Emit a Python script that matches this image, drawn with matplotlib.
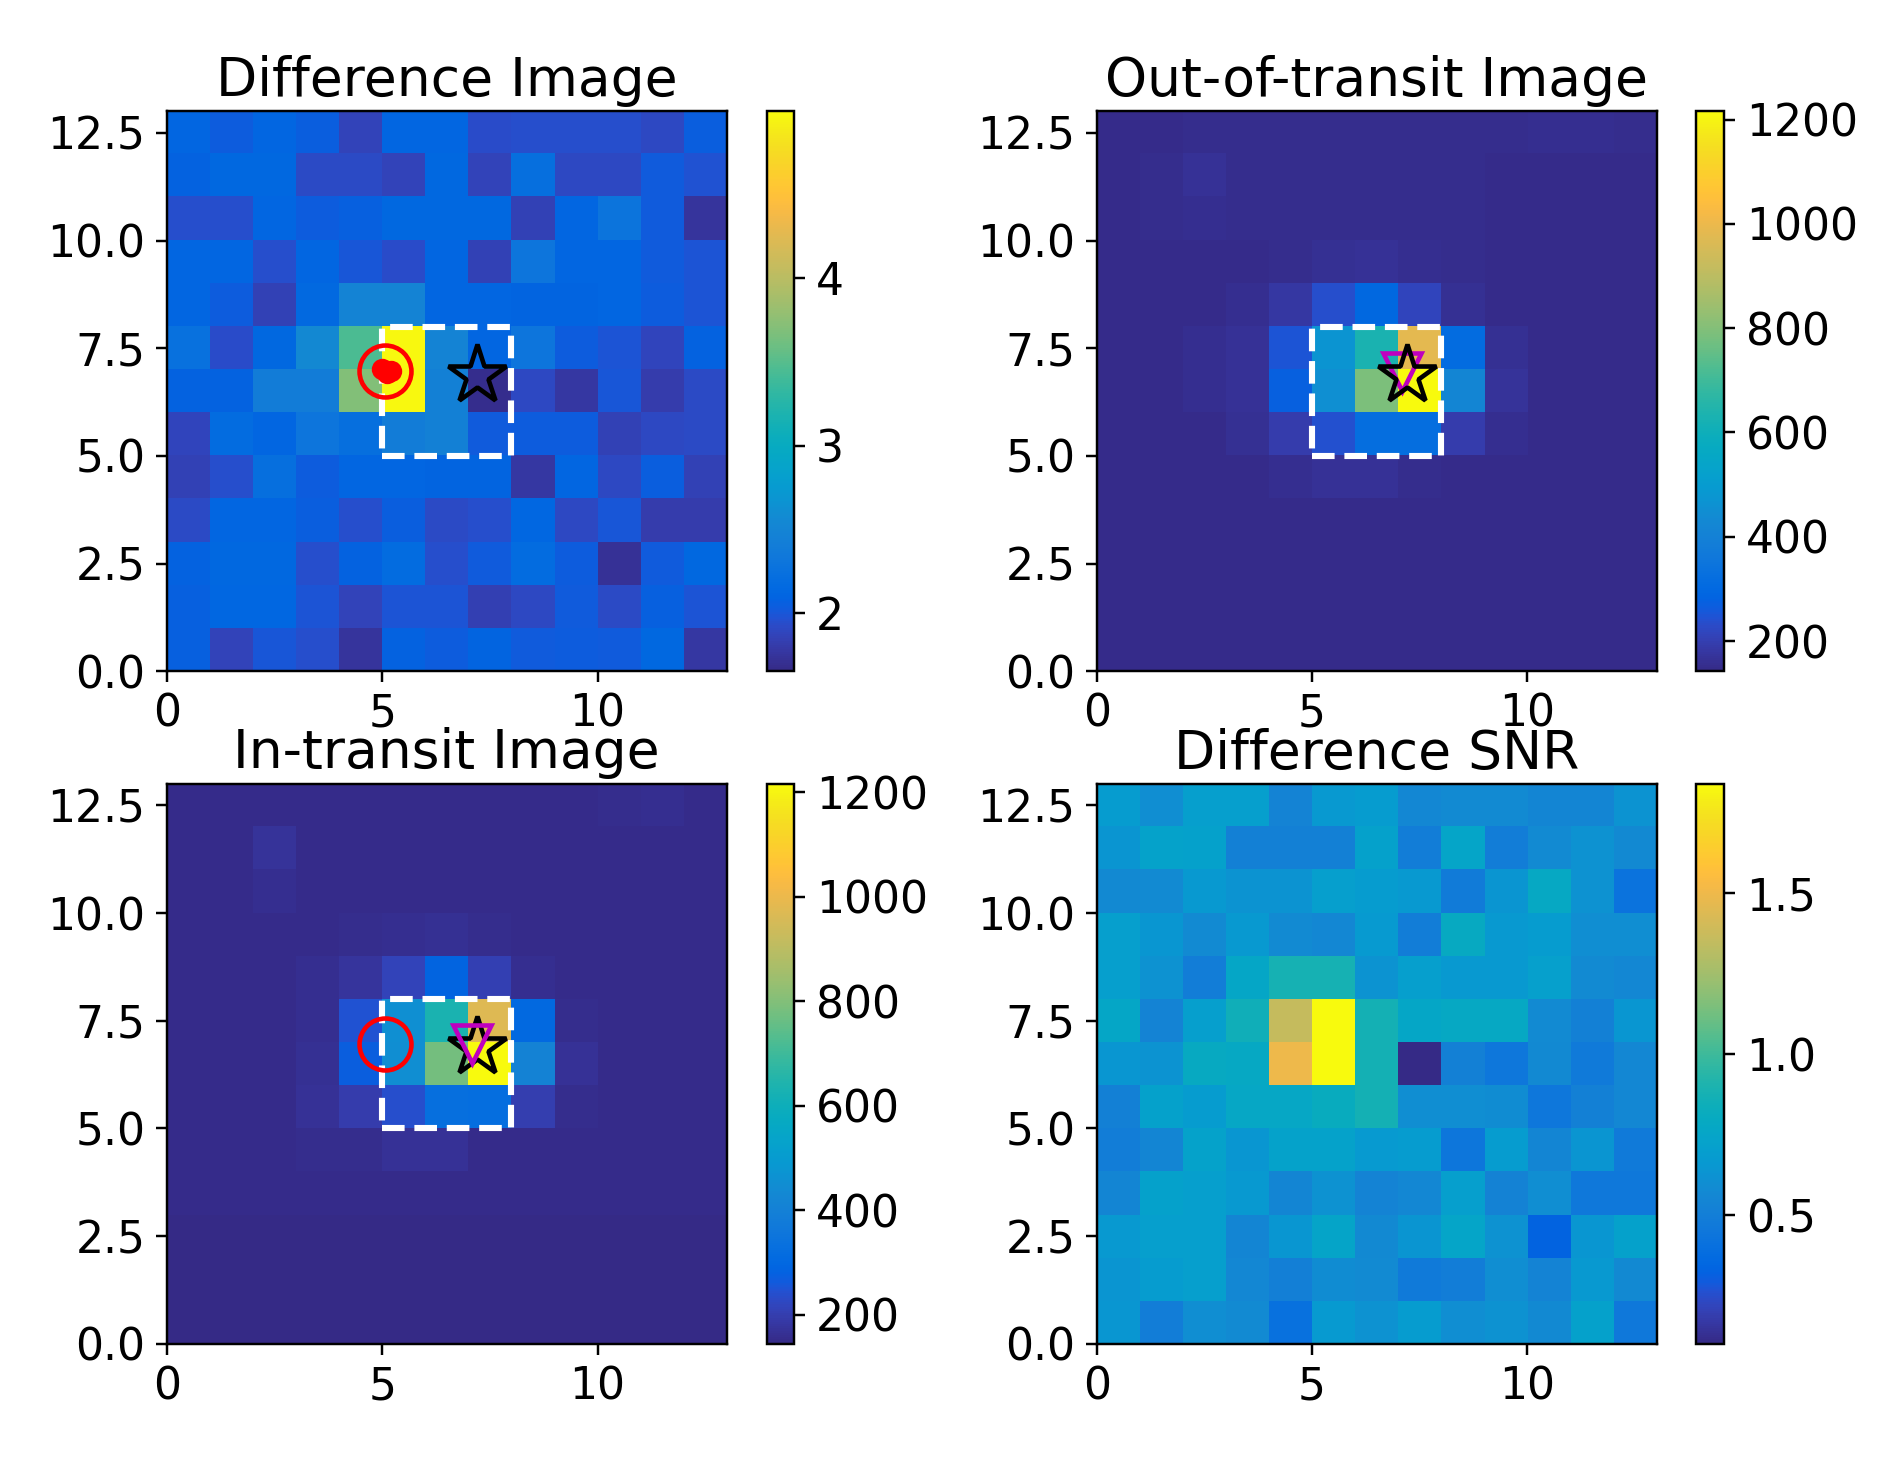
import numpy as np
import matplotlib
matplotlib.use('Agg')
import matplotlib.pyplot as plt
from matplotlib.colors import LinearSegmentedColormap

# parula colour table, stretched to 256 levels below
parula_table = [
    (0.2081,0.1663,0.5292),(0.2116,0.1898,0.5777),(0.2123,0.2138,0.6270),(0.2081,0.2386,0.6771),
    (0.1959,0.2645,0.7279),(0.1707,0.2919,0.7792),(0.1253,0.3242,0.8303),(0.0591,0.3598,0.8683),
    (0.0117,0.3875,0.8820),(0.0060,0.4086,0.8828),(0.0165,0.4266,0.8786),(0.0329,0.4430,0.8720),
    (0.0498,0.4586,0.8641),(0.0629,0.4737,0.8554),(0.0723,0.4887,0.8467),(0.0779,0.5040,0.8384),
    (0.0793,0.5200,0.8312),(0.0749,0.5375,0.8263),(0.0641,0.5570,0.8240),(0.0488,0.5772,0.8228),
    (0.0343,0.5966,0.8199),(0.0265,0.6137,0.8135),(0.0239,0.6287,0.8038),(0.0231,0.6418,0.7913),
    (0.0228,0.6535,0.7768),(0.0267,0.6642,0.7607),(0.0384,0.6743,0.7436),(0.0590,0.6838,0.7254),
    (0.0843,0.6928,0.7062),(0.1133,0.7015,0.6859),(0.1453,0.7098,0.6646),(0.1801,0.7177,0.6424),
    (0.2178,0.7250,0.6193),(0.2586,0.7317,0.5954),(0.3022,0.7376,0.5712),(0.3482,0.7424,0.5473),
    (0.3953,0.7459,0.5244),(0.4420,0.7481,0.5033),(0.4871,0.7491,0.4840),(0.5300,0.7491,0.4661),
    (0.5709,0.7485,0.4494),(0.6099,0.7473,0.4337),(0.6473,0.7456,0.4188),(0.6834,0.7435,0.4044),
    (0.7184,0.7411,0.3905),(0.7525,0.7384,0.3768),(0.7858,0.7356,0.3633),(0.8185,0.7327,0.3498),
    (0.8507,0.7299,0.3360),(0.8824,0.7274,0.3217),(0.9139,0.7258,0.3063),(0.9450,0.7261,0.2886),
    (0.9739,0.7314,0.2666),(0.9938,0.7455,0.2403),(0.9990,0.7653,0.2164),(0.9955,0.7861,0.1967),
    (0.9880,0.8066,0.1794),(0.9789,0.8271,0.1633),(0.9697,0.8481,0.1475),(0.9626,0.8705,0.1309),
    (0.9589,0.8949,0.1132),(0.9598,0.9218,0.0948),(0.9661,0.9514,0.0755),(0.9763,0.9831,0.0538)]
parula = LinearSegmentedColormap.from_list('parula', parula_table, N=256)

# rows listed top (y=12..13) to bottom (y=0..1)
diff_img = [
    [2.12,2.03,2.12,2.05,1.87,2.12,2.12,1.93,1.95,1.95,1.95,1.90,2.05],
    [2.08,2.14,2.14,1.92,1.92,1.87,2.14,1.87,2.22,1.90,1.90,2.02,1.97],
    [1.95,1.95,2.12,2.03,2.06,2.14,2.14,2.14,1.85,2.12,2.28,2.02,1.75],
    [2.12,2.12,1.95,2.12,2.00,1.93,2.12,1.85,2.30,2.12,2.12,2.02,1.98],
    [2.12,2.04,1.85,2.16,2.50,2.50,2.12,2.12,2.10,2.10,2.12,2.03,1.98],
    [2.25,1.93,2.14,2.55,3.45,4.98,2.50,2.12,2.30,2.03,1.98,1.88,2.08],
    [2.08,2.08,2.40,2.40,3.70,4.98,2.45,1.68,1.90,1.78,2.00,1.82,1.92],
    [1.88,2.18,2.12,2.30,2.22,2.40,2.45,2.02,2.04,2.04,1.85,1.90,1.92],
    [1.85,1.95,2.22,2.03,2.12,2.12,2.10,2.10,1.78,2.12,1.90,2.05,1.85],
    [1.92,2.12,2.12,2.05,1.95,2.05,1.92,1.95,2.13,1.90,2.00,1.82,1.82],
    [2.08,2.14,2.14,1.95,2.08,2.18,1.95,2.02,2.18,2.03,1.72,2.02,2.14],
    [2.06,2.13,2.13,1.98,1.87,1.98,1.98,1.84,1.90,2.02,1.92,2.06,1.98],
    [2.06,1.87,2.00,1.95,1.75,2.08,2.03,2.10,2.02,2.03,2.02,2.14,1.78]]

out_img = [
    [150,150,151,151,151,151,151,151,151,151,155,157,152],
    [150,152,166,151,151,151,151,151,151,150,150,150,150],
    [150,152,158,151,151,151,151,151,151,150,149,149,149],
    [150,150,150,150,152,160,165,155,151,149,149,149,149],
    [150,150,150,155,180,235,300,215,160,150,149,149,149],
    [150,150,155,165,250,470,630,985,310,160,149,149,149],
    [150,150,155,165,275,455,790,1216,420,170,149,149,149],
    [150,150,150,160,195,240,320,320,195,155,149,149,149],
    [150,150,150,150,155,165,165,152,150,149,149,149,149],
    [149,149,149,149,149,149,149,149,149,149,149,149,149],
    [148,148,148,148,148,148,148,148,148,148,148,148,148],
    [148,148,148,148,148,148,148,148,148,148,148,148,148],
    [148,148,148,148,148,148,148,148,148,148,148,148,148]]

in_img = [
    [150,150,151,151,151,151,151,151,151,151,155,160,152],
    [150,152,170,151,151,151,151,151,151,150,150,150,150],
    [150,152,157,151,151,151,151,151,151,150,149,149,149],
    [150,150,150,150,153,158,162,155,151,149,149,149,149],
    [150,150,150,160,175,215,290,205,160,150,149,149,149],
    [150,150,152,160,245,455,630,970,305,155,149,149,149],
    [150,150,152,162,270,450,780,1216,410,168,149,149,149],
    [150,150,150,165,195,240,325,320,200,155,149,149,149],
    [150,150,150,155,155,165,165,152,150,149,149,149,149],
    [149,149,149,149,149,149,149,149,149,149,149,149,149],
    [148,148,148,148,148,148,148,148,148,148,148,148,148],
    [148,148,148,148,148,148,148,148,148,148,148,148,148],
    [148,148,148,148,148,148,148,148,148,148,148,148,148]]

snr_img = [
    [.68,.60,.70,.70,.54,.66,.68,.56,.58,.58,.55,.55,.63],
    [.64,.73,.72,.52,.52,.52,.72,.50,.75,.50,.58,.62,.57],
    [.57,.58,.66,.63,.63,.70,.68,.66,.48,.64,.78,.62,.42],
    [.70,.65,.58,.66,.58,.56,.67,.50,.80,.66,.68,.60,.60],
    [.70,.62,.50,.76,.88,.88,.63,.70,.66,.66,.71,.58,.56],
    [.76,.54,.70,.85,1.36,1.84,.87,.76,.78,.78,.58,.52,.65],
    [.65,.63,.80,.78,1.50,1.84,.87,.10,.52,.45,.57,.47,.56],
    [.52,.72,.68,.77,.77,.81,.87,.60,.60,.59,.45,.52,.56],
    [.50,.55,.73,.65,.73,.73,.67,.68,.44,.68,.55,.64,.47],
    [.55,.72,.70,.66,.55,.62,.54,.56,.70,.53,.60,.46,.46],
    [.66,.70,.70,.55,.65,.74,.57,.64,.75,.62,.33,.65,.72],
    [.64,.68,.70,.56,.51,.59,.58,.47,.50,.60,.54,.66,.57],
    [.65,.50,.60,.58,.41,.67,.62,.68,.60,.62,.57,.72,.46]]

titles = ['Difference Image', 'Out-of-transit Image', 'In-transit Image', 'Difference SNR']
images = [diff_img, out_img, in_img, snr_img]
vmins = [1.65, 142, 144, 0.10]
vmaxs = [5.0, 1216, 1216, 1.84]
cbar_ticks = [[2, 3, 4], [200, 400, 600, 800, 1000, 1200], [200, 400, 600, 800, 1000, 1200], [0.5, 1.0, 1.5]]

# aperture outline and marker positions, in pixels
ap_x = [5, 8, 8, 5, 5]
ap_y = [5, 5, 8, 8, 5]
star_x, star_y = 7.2, 6.88
circle_x, circle_y = 5.07, 6.97
tri_x, tri_y = 7.08, 6.95
centroid_x = [5.0, 5.12, 5.2]
centroid_y = [7.02, 6.92, 6.98]

W, H = 1568.0, 1217.0
ax_left = [138, 907, 138, 907]
ax_top = [92, 92, 648, 648]
ax_size = 463
cb_gap = 33
cb_width = 23

fig = plt.figure(figsize=(1896/220.0, 1472/220.0), dpi=220)

for i in range(4):
    ax = fig.add_axes([ax_left[i]/W, 1 - (ax_top[i]+ax_size)/H, ax_size/W, ax_size/H])
    im = ax.imshow(np.array(images[i])[::-1], origin='lower', extent=[0, 13, 0, 13],
                   cmap=parula, vmin=vmins[i], vmax=vmaxs[i], interpolation='nearest', aspect='auto')
    ax.set_xlim(0, 13)
    ax.set_ylim(0, 13)
    ax.set_xticks([0, 5, 10])
    ax.set_yticks([0, 2.5, 5, 7.5, 10, 12.5])
    ax.set_yticklabels(['0.0', '2.5', '5.0', '7.5', '10.0', '12.5'])
    ax.tick_params(labelsize=14.4)
    ax.set_title(titles[i], fontsize=17.5, pad=5)

    cax = fig.add_axes([(ax_left[i]+ax_size+cb_gap)/W, 1 - (ax_top[i]+ax_size)/H, cb_width/W, ax_size/H])
    cb = fig.colorbar(im, cax=cax)
    cb.set_ticks(cbar_ticks[i])
    cb.ax.tick_params(labelsize=14.4)

    if i < 3:
        ax.plot(ap_x, ap_y, color='w', ls='--', lw=2, dash_joinstyle='round')
    if i == 0:
        ax.plot(centroid_x, centroid_y, 'o', color='r', ms=6, mec='r')
    if i in (0, 2):
        ax.plot(circle_x, circle_y, 'o', mfc='none', mec='r', ms=17, mew=1.5)
    # triangle sits under the star on the out-of-transit panel, over it on the in-transit one
    if i == 1:
        ax.plot(tri_x, tri_y, 'v', mfc='none', mec='m', ms=12.5, mew=1.5)
    if i < 3:
        ax.plot(star_x, star_y, '*', mfc='none', mec='k', ms=20, mew=1.5)
    if i == 2:
        ax.plot(tri_x, tri_y, 'v', mfc='none', mec='m', ms=12.5, mew=1.5)

fig.savefig('out.png', dpi=220)
